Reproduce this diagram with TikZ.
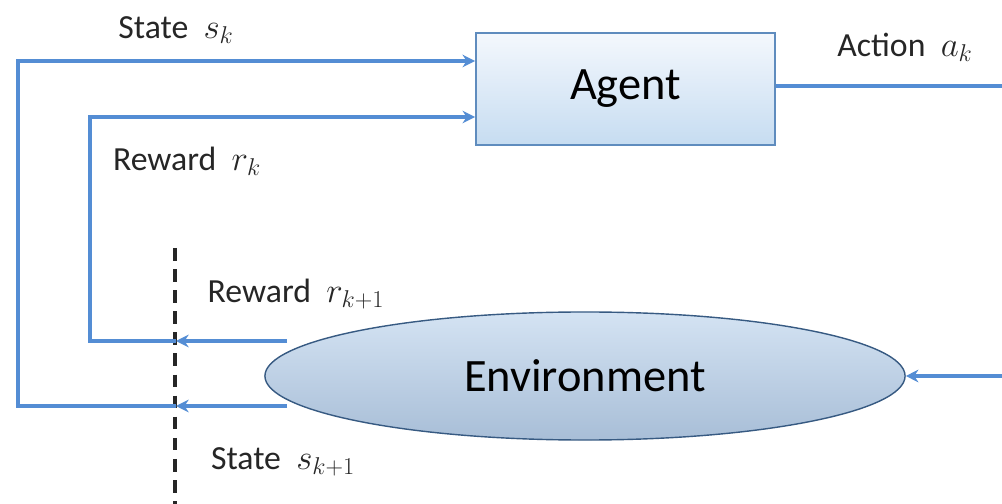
\documentclass[tikz,border=0pt]{standalone}
\usepackage{fontspec}
\setmainfont{Carlito}
\usetikzlibrary{arrows.meta,shapes.geometric}
\definecolor{flowblue}{RGB}{84,141,212}
\definecolor{boxedge}{RGB}{95,140,190}
\definecolor{boxtop}{RGB}{244,248,253}
\definecolor{boxbot}{RGB}{198,220,241}
\definecolor{envedge}{RGB}{55,90,130}
\definecolor{envtop}{RGB}{212,227,243}
\definecolor{envmid}{RGB}{200,218,238}
\definecolor{envbot}{RGB}{168,190,215}
\begin{document}
\begin{tikzpicture}[x=0.025cm,y=-0.025cm,
  flow/.style={draw=flowblue,line width=2.6pt},
  tip/.style={-{Stealth[length=9pt,width=9pt]}},
  lbl/.style={font=\fontsize{24}{28}\selectfont,text=black!85,inner sep=0pt},
  agentbox/.style={rectangle,draw=boxedge,line width=1.2pt,
    top color=boxtop,bottom color=boxbot,
    minimum width=7.475cm,minimum height=2.8cm,inner sep=0pt,
    font=\fontsize{33}{38}\selectfont},
  envshape/.style={ellipse,draw=envedge,line width=1pt,
    top color=envtop,middle color=envmid,bottom color=envbot,
    minimum width=16cm,minimum height=3.2cm,inner sep=0pt,
    font=\fontsize{33}{38}\selectfont},
  divider/.style={draw=black!85,line width=2.2pt,dash pattern=on 9pt off 6pt}]
\useasboundingbox (0,0) rectangle (1002,504);

% the two blocks
\node[agentbox] (agent) at (625.5,89) {Agent};
\node[envshape] (env) at (585,376) {Environment};

% time step divider
\coordinate (dtop) at (175,248);
\coordinate (dbot) at (175,504);
\draw[divider] (dtop) -- (dbot);

% feedback from the environment to the agent
\coordinate (rstart) at (287,341);
\coordinate (rmid) at (176,341);
\coordinate (rcorner) at (90,341);
\coordinate (sstart) at (287,406);
\coordinate (smid) at (176,406);
\coordinate (scorner) at (18,406);
\draw[flow,tip] (rstart) -- (rmid);
\draw[flow,tip] (sstart) -- (smid);
\draw[flow,tip] (rmid) -- (rcorner) |- ([yshift=-0.7cm]agent.west);
\draw[flow,tip] (smid) -- (scorner) |- ([yshift=0.7cm]agent.west);

% action out of the agent, into the environment
\coordinate (aout) at (1002,86);
\coordinate (ain) at (1002,376);
\draw[flow] (agent.east |- aout) -- (aout);
\draw[flow,tip] (ain) -- (env.east);

% labels
\node[lbl] (lsk) at (176,30) {State \ $s_k$};
\node[lbl] (lak) at (905,47) {Action \ $a_k$};
\node[lbl] (lrk) at (187,161) {Reward \ $r_k$};
\node[lbl] (lrk1) at (296,294) {Reward \ $r_{k+1}$};
\node[lbl] (lsk1) at (283,462) {State \ $s_{k+1}$};
\end{tikzpicture}
\end{document}
